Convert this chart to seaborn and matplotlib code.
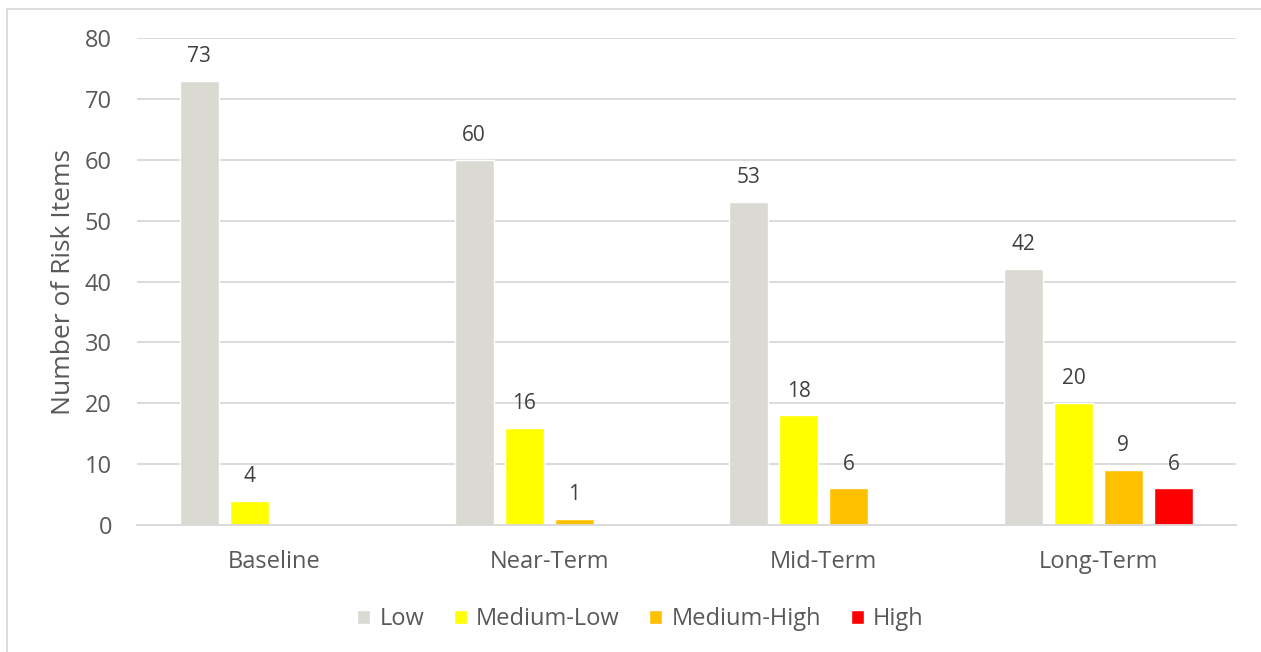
import pandas as pd
import matplotlib.pyplot as plt
import seaborn as sns
from matplotlib.patches import Rectangle

# data
periods = ['Baseline', 'Near-Term', 'Mid-Term', 'Long-Term']
levels = ['Low', 'Medium-Low', 'Medium-High', 'High']
low = [73, 60, 53, 42]
medium_low = [4, 16, 18, 20]
medium_high = [0, 1, 6, 9]
high = [0, 0, 0, 6]
level_colors = ['#DADAD3', '#FFFF00', '#FFC000', '#FF0000']

df = pd.DataFrame({'Period': periods, 'Low': low, 'Medium-Low': medium_low,
                   'Medium-High': medium_high, 'High': high})
df = df.melt(id_vars='Period', var_name='Level', value_name='Count')

sns.set_style("white")
plt.rcParams['font.family'] = ['Open Sans', 'DejaVu Sans']

fig = plt.figure(figsize=(12.61, 6.52), dpi=100)
ax = fig.add_axes([0.1086, 0.1948, 0.8714, 0.7469])

sns.barplot(data=df, x='Period', y='Count', hue='Level', order=periods,
            hue_order=levels, palette=level_colors, width=0.728, gap=0.22,
            saturation=1, ax=ax, legend=True)

# value labels, skipping empty bars
for container in ax.containers:
    labels = [f'{v:.0f}' if v > 0 else '' for v in container.datavalues]
    ax.bar_label(container, labels=labels, padding=10, fontsize=15, color='#404040')

ax.set_ylim(0, 80)
ax.set_yticks(range(0, 81, 10))
ax.yaxis.grid(True, color='#D9D9D9', linewidth=1.3)
ax.set_axisbelow(True)
for side in ['left', 'right', 'top']:
    ax.spines[side].set_visible(False)
ax.spines['bottom'].set_color('#D9D9D9')
ax.spines['bottom'].set_linewidth(1.3)
ax.tick_params(axis='both', length=0, labelsize=17, labelcolor='#595959')
ax.tick_params(axis='y', pad=18)
ax.tick_params(axis='x', pad=18)
ax.set_xlabel('')
ax.set_ylabel('Number of Risk Items', fontsize=19, color='#595959', labelpad=6)

ax.legend(loc='upper center', bbox_to_anchor=(0.458, -0.125), ncol=4, frameon=False,
          fontsize=17, labelcolor='#595959', handlelength=0.55, handleheight=0.55,
          handletextpad=0.4, columnspacing=1.25)

# chart border
fig.patches.append(Rectangle((7 / 1261, -0.1), 1.2, 1 - 9 / 652 + 0.1,
                             transform=fig.transFigure, fill=False,
                             edgecolor='#D9D9D9', linewidth=1.3))

plt.savefig('out.png', dpi=100)
plt.close()
